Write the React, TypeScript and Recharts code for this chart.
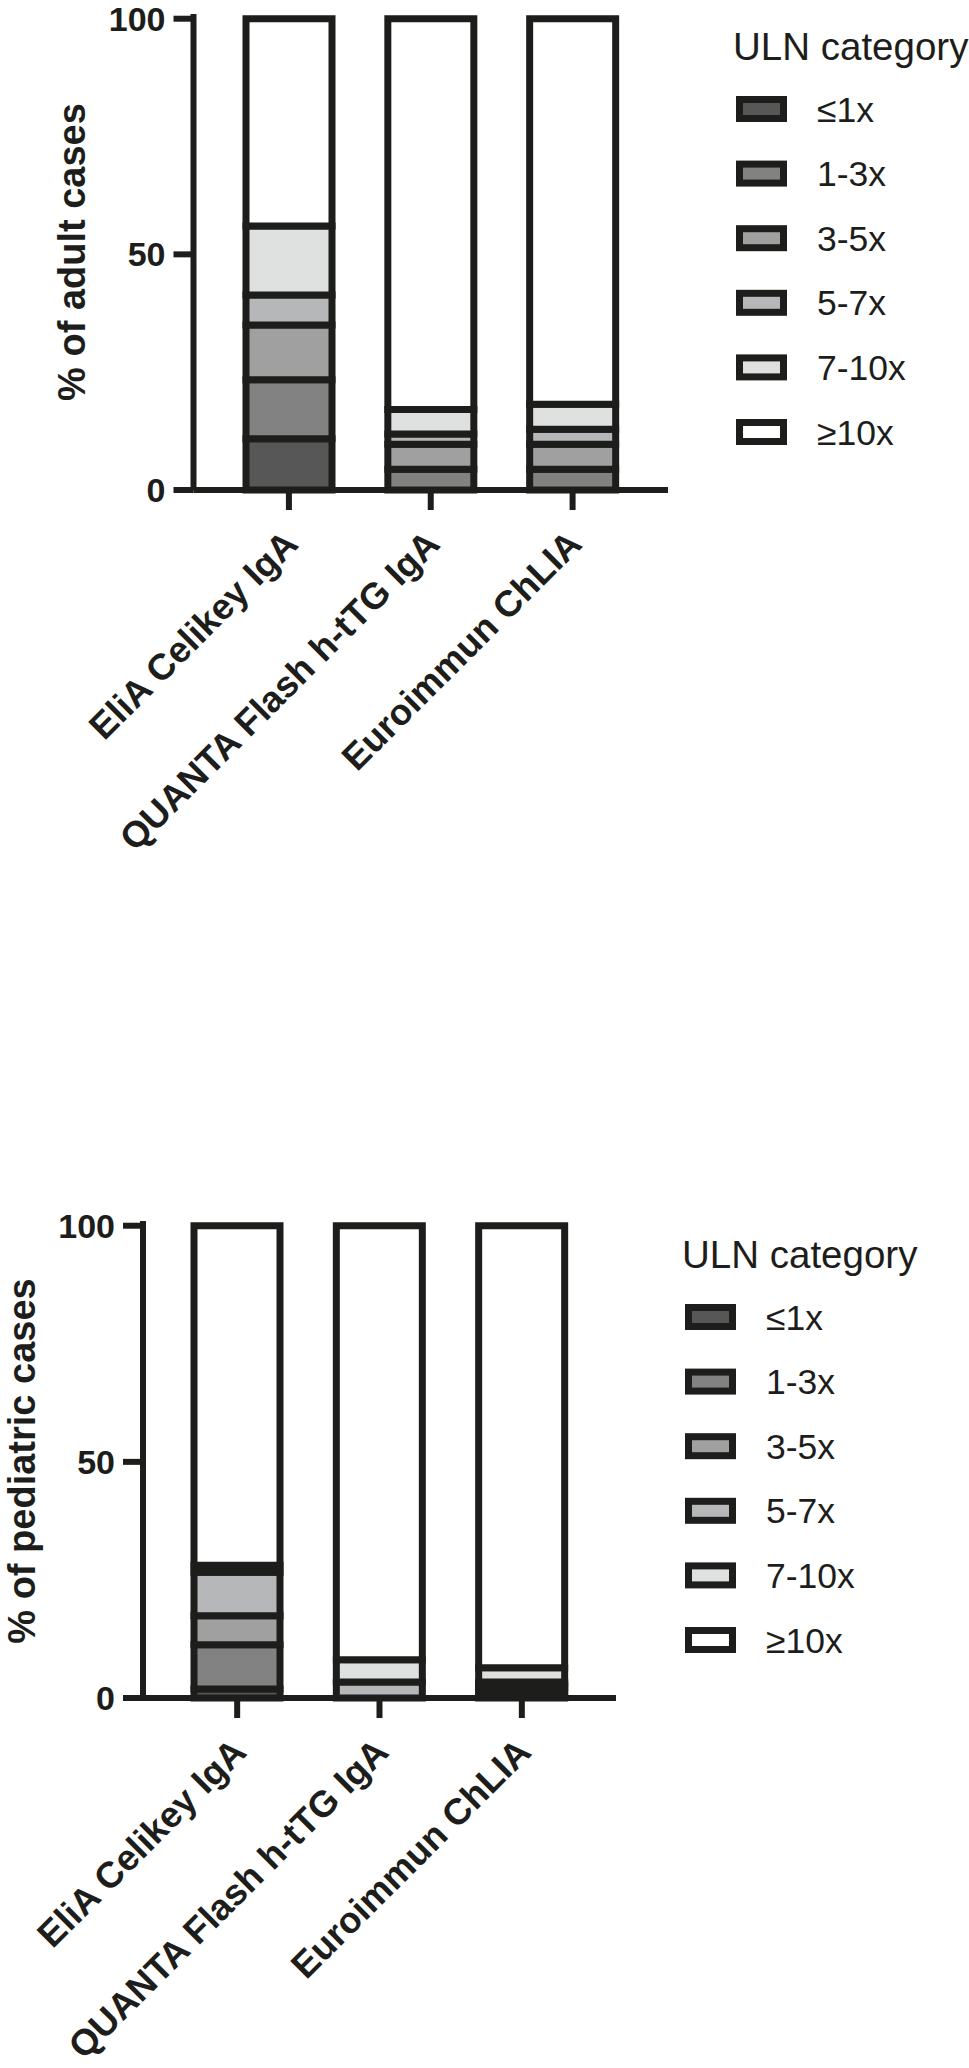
import { BarChart, Bar, XAxis, YAxis } from 'recharts';

// Assays on the x axis, same for both panels
const assays = ['EliA Celikey IgA', 'QUANTA Flash h-tTG IgA', 'Euroimmun ChLIA'];

// ULN categories, bottom of the stack first
const ulnCategories = ['≤1x', '1-3x', '3-5x', '5-7x', '7-10x', '≥10x'];
const ulnKeys = ['le1', 'r1to3', 'r3to5', 'r5to7', 'r7to10', 'ge10'];
const ulnColors = ['#575757', '#828282', '#a0a0a0', '#b6b7b9', '#dfe0e0', '#ffffff'];

// % of adult cases per assay
const adultLe1 = [10.9, 0, 0];
const adult1to3 = [12.5, 4.4, 4.4];
const adult3to5 = [11.6, 5.3, 5.3];
const adult5to7 = [6.4, 2.2, 3.2];
const adult7to10 = [14.6, 5.2, 5.3];
const adultGe10 = [44.0, 82.9, 81.8];

// % of pediatric cases per assay
const pedLe1 = [1.9, 0, 1.2];
const ped1to3 = [9.4, 0, 1.0];
const ped3to5 = [6.1, 0, 0.6];
const ped5to7 = [9.2, 3.4, 0.6];
const ped7to10 = [1.5, 4.7, 3.0];
const pedGe10 = [71.9, 91.9, 93.6];

const yTicks = [0, 50, 100];

const INK = '#1d1d1b';
const FONT = '"Liberation Sans", Arial, Helvetica, sans-serif';

const buildRows = (series: number[][]) =>
  assays.map((name, i) => {
    const row: Record<string, string | number> = { name };
    ulnKeys.forEach((k, j) => {
      row[k] = series[j][i];
    });
    return row;
  });

const adultData = buildRows([adultLe1, adult1to3, adult3to5, adult5to7, adult7to10, adultGe10]);
const pediatricData = buildRows([pedLe1, ped1to3, ped3to5, ped5to7, ped7to10, pedGe10]);

const AssayTick = ({ x, y, payload }: any) => (
  <g transform={`translate(${x + 11},${y + 34})`}>
    <text
      transform="rotate(-45)"
      textAnchor="end"
      fill={INK}
      fontSize={36.5}
      fontWeight={700}
      fontFamily={FONT}
    >
      {payload.value}
    </text>
  </g>
);

const YTitle = ({ px, py, text }: any) => (
  <text
    transform={`translate(${px},${py}) rotate(-90)`}
    textAnchor="middle"
    fill={INK}
    fontSize={38}
    fontWeight={700}
    fontFamily={FONT}
  >
    {text}
  </text>
);

interface PanelProps {
  data: Record<string, string | number>[];
  top: number;
  height: number;
  marginTop: number;
  marginRight: number;
  axisWidth: number;
  xAxisHeight: number;
  pad: number;
  title: string;
  titleX: number;
  titleY: number;
}

const Panel = ({ data, top, height, marginTop, marginRight, axisWidth, xAxisHeight, pad, title, titleX, titleY }: PanelProps) => (
  <div style={{ position: 'absolute', left: 0, top }}>
    <BarChart
      width={969}
      height={height}
      data={data}
      margin={{ top: marginTop, right: marginRight, bottom: 0, left: 0 }}
    >
      <XAxis
        dataKey="name"
        interval={0}
        height={xAxisHeight}
        padding={{ left: pad, right: pad }}
        axisLine={{ stroke: INK, strokeWidth: 6 }}
        tickLine={{ stroke: INK, strokeWidth: 6 }}
        tickSize={20}
        tick={<AssayTick />}
      />
      <YAxis
        width={axisWidth}
        domain={[0, 101]}
        ticks={yTicks}
        axisLine={{ stroke: INK, strokeWidth: 6 }}
        tickLine={{ stroke: INK, strokeWidth: 6 }}
        tickSize={20}
        tickMargin={8}
        tick={{ fill: INK, fontSize: 34, fontWeight: 700, fontFamily: FONT }}
        label={<YTitle px={titleX} py={titleY} text={title} />}
      />
      {ulnKeys.map((k, j) => (
        <Bar
          key={k}
          dataKey={k}
          name={ulnCategories[j]}
          stackId="uln"
          barSize={86}
          fill={ulnColors[j]}
          stroke={INK}
          strokeWidth={7}
          isAnimationActive={false}
        />
      ))}
    </BarChart>
  </div>
);

const UlnLegend = ({ x, y }: { x: number; y: number }) => (
  <g fontFamily={FONT} fill={INK}>
    <text x={x - 3} y={y} fontSize={38.5}>
      ULN category
    </text>
    {ulnCategories.map((c, i) => {
      const cy = y + 49 + i * 64.6;
      return (
        <g key={c}>
          <rect x={x + 3.5} y={cy - 9.5} width={44} height={19} fill={ulnColors[i]} stroke={INK} strokeWidth={7} />
          <text x={x + 81} y={cy + 12.5} fontSize={35.5}>
            {c}
          </text>
        </g>
      );
    })}
  </g>
);

export default function App() {
  return (
    <div style={{ position: 'absolute', left: 0, top: 0, width: 969, height: 2068, background: '#fff', overflow: 'hidden' }}>
      <Panel
        data={adultData}
        top={0}
        height={900}
        marginTop={14}
        marginRight={301}
        axisWidth={193.5}
        xAxisHeight={410}
        pad={24.5}
        title="% of adult cases"
        titleX={85}
        titleY={252}
      />
      <Panel
        data={pediatricData}
        top={1200}
        height={868}
        marginTop={21}
        marginRight={353}
        axisWidth={143}
        xAxisHeight={370}
        pad={23}
        title="% of pediatric cases"
        titleX={35}
        titleY={261}
      />
      <svg width={969} height={2068} style={{ position: 'absolute', left: 0, top: 0, pointerEvents: 'none' }}>
        <UlnLegend x={736} y={60} />
        <UlnLegend x={685} y={1268} />
      </svg>
    </div>
  );
}
